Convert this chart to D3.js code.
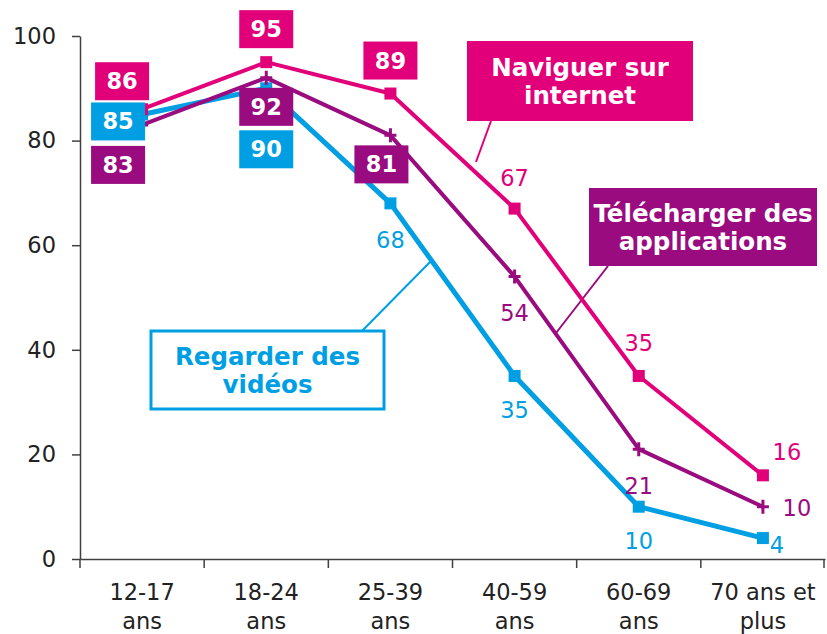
<!DOCTYPE html>
<html>
<head>
<meta charset="utf-8">
<script src="https://cdn.jsdelivr.net/npm/d3@7"></script>
<style>
  body { margin: 0; background: #fff; }
  text { font-family: "DejaVu Sans", Verdana, sans-serif; }
</style>
</head>
<body>
<div id="chart"></div>
<script>
// categories (two-line labels)
var categories = ["12-17 ans", "18-24 ans", "25-39 ans", "40-59 ans", "60-69 ans", "70 ans et plus"]
var catLines = [["12-17", "ans"], ["18-24", "ans"], ["25-39", "ans"], ["40-59", "ans"], ["60-69", "ans"], ["70 ans et", "plus"]]
var yTicks = [0, 20, 40, 60, 80, 100]

// series values
var naviguer = [86, 95, 89, 67, 35, 16]
var telecharger = [83, 92, 81, 54, 21, 10]
var videos = [85, 90, 68, 35, 10, 4]

// label placement (offset from point, boxed or not)
var navLabelPos = [[-20, -28, 1], [0, -33, 1], [0, -33, 1], [0, -31, 0], [0, -33, 0], [24, -23, 0]]
var telLabelPos = [[-24, 40, 1], [0, 29, 1], [-9, 29, 1], [0, 36, 0], [0, 37, 0], [34, 1, 0]]
var vidLabelPos = [[-24, 7, 1], [0, 61, 1], [0, 37, 0], [0, 34, 0], [0, 34, 0], [14, 7, 0]]

var pink = "#e2007a", purple = "#990b7e", cyan = "#009fe3", axisColor = "#404040"

var width = 827, height = 634
var margin = {top: 36, bottom: 75, left: 80, right: 2}

var svg = d3.select("#chart").append("svg")
  .attr("width", width)
  .attr("height", height)

var x = d3.scaleBand()
  .domain(categories)
  .range([margin.left, width - margin.right])
  .padding(0)

var y = d3.scaleLinear()
  .domain([0, 100])
  .range([height - margin.bottom, margin.top])

var cx = function(i) { return x(categories[i]) + x.bandwidth() / 2 }

// y axis
var yAxis = svg.append("g")
  .attr("transform", `translate(${margin.left},0)`)
  .call(d3.axisLeft(y).tickValues(yTicks).tickSize(8).tickSizeOuter(0).tickPadding(16))
yAxis.selectAll("text").attr("font-size", "22.5px").attr("fill", "#222")
  .attr("font-family", "DejaVu Sans, Verdana, sans-serif")
yAxis.selectAll("line, path").attr("stroke", axisColor).attr("stroke-width", 1.5)

// x axis
var xAxis = svg.append("g")
  .attr("transform", `translate(0,${y(0)})`)
  .call(d3.axisBottom(x).tickSize(0).tickSizeOuter(0).tickFormat(""))
xAxis.select("path").attr("stroke", axisColor).attr("stroke-width", 1.5)
xAxis.selectAll(".tick").remove()

var edges = categories.map(c => x(c)).concat([x.range()[1] - 1])
svg.append("g").selectAll("line")
  .data(edges)
  .join("line")
  .attr("x1", d => d).attr("x2", d => d)
  .attr("y1", y(0)).attr("y2", y(0) + 9)
  .attr("stroke", axisColor).attr("stroke-width", 1.5)

var xl = svg.append("g").selectAll("text")
  .data(catLines)
  .join("text")
  .attr("text-anchor", "middle")
  .attr("font-size", "22.5px")
  .attr("fill", "#222")
xl.append("tspan").attr("x", (d, i) => cx(i)).attr("y", y(0) + 41).text(d => d[0])
xl.append("tspan").attr("x", (d, i) => cx(i)).attr("y", y(0) + 70).text(d => d[1])

// annotation boxes
function seriesBox(bx, by, bw, bh, lines, color, filled, leader) {
  var g = svg.append("g")
  g.append("line")
    .attr("x1", leader[0]).attr("y1", leader[1])
    .attr("x2", leader[2]).attr("y2", leader[3])
    .attr("stroke", color).attr("stroke-width", 2)
  g.append("rect")
    .attr("x", bx).attr("y", by).attr("width", bw).attr("height", bh)
    .attr("fill", filled ? color : "#fff")
    .attr("stroke", color).attr("stroke-width", filled ? 0 : 3)
  lines.forEach(function(t, i) {
    g.append("text")
      .attr("x", bx + bw / 2)
      .attr("y", by + bh / 2 + (i - (lines.length - 1) / 2) * 28 + 9)
      .attr("text-anchor", "middle")
      .attr("font-size", "24.5px")
      .attr("font-weight", "bold")
      .attr("fill", filled ? "#fff" : color)
      .text(t)
  })
}

var line = d3.line().x((d, i) => cx(i)).y(d => y(d))

function drawSeries(vals, color, marker, sw) {
  var g = svg.append("g")
  g.append("path")
    .datum(vals)
    .attr("d", line)
    .attr("fill", "none")
    .attr("stroke", color)
    .attr("stroke-width", sw)
    .attr("stroke-linejoin", "round")
  if (marker == "square") {
    g.selectAll("rect")
      .data(vals)
      .join("rect")
      .attr("x", (d, i) => cx(i) - 6)
      .attr("y", d => y(d) - 6)
      .attr("width", 12).attr("height", 12)
      .attr("fill", color)
  } else {
    g.selectAll("path.plus")
      .data(vals)
      .join("path")
      .attr("class", "plus")
      .attr("d", (d, i) => `M${cx(i) - 6},${y(d)}h12M${cx(i)},${y(d) - 7}v14`)
      .attr("stroke", color)
      .attr("stroke-width", 3)
  }
}

function drawLabels(vals, color, pos) {
  var g = svg.append("g")
  vals.forEach(function(v, i) {
    var px = cx(i) + pos[i][0], py = y(v) + pos[i][1]
    if (pos[i][2]) {
      g.append("rect")
        .attr("x", px - 27).attr("y", py - 19)
        .attr("width", 54).attr("height", 38)
        .attr("fill", color)
      g.append("text")
        .attr("x", px).attr("y", py + 8)
        .attr("text-anchor", "middle")
        .attr("font-size", "22.5px").attr("font-weight", "bold")
        .attr("fill", "#fff")
        .text(v)
    } else {
      g.append("text")
        .attr("x", px).attr("y", py + 8)
        .attr("text-anchor", "middle")
        .attr("font-size", "22.5px")
        .attr("fill", color)
        .text(v)
    }
  })
}

seriesBox(467, 41, 226, 80, ["Naviguer sur", "internet"], pink, true, [491, 121, 476, 162])
seriesBox(589, 188, 228, 78, ["Télécharger des", "applications"], purple, true, [608, 266, 556, 333])
seriesBox(151, 331, 233, 78, ["Regarder des", "vidéos"], cyan, false, [362, 331, 432, 260])

drawSeries(videos, cyan, "square", 5)
drawSeries(telecharger, purple, "plus", 4)
drawSeries(naviguer, pink, "square", 4)

drawLabels(naviguer, pink, navLabelPos)
drawLabels(telecharger, purple, telLabelPos)
drawLabels(videos, cyan, vidLabelPos)
</script>
</body>
</html>
